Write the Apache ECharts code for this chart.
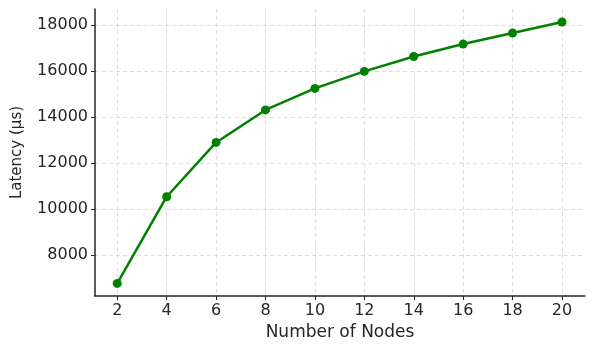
<!DOCTYPE html>
<html>
<head>
<meta charset="utf-8" />
<title>Latency vs Nodes</title>
<script src="https://cdn.jsdelivr.net/npm/echarts@6/dist/echarts.min.js"></script>
<style>
  * { margin: 0; padding: 0; }
  #chart-container { width: 595px; height: 347px; background: #fff; }
</style>
</head>
<body>
<div id="chart-container"></div>
<script>
var nodes = [2, 4, 6, 8, 10, 12, 14, 16, 18, 20];
var latency = [6765, 10535, 12896, 14310, 15245, 15985, 16635, 17175, 17655, 18135];
var xTicks = [2, 4, 6, 8, 10, 12, 14, 16, 18, 20];
var yTicks = [8000, 10000, 12000, 14000, 16000, 18000];

var dom = document.getElementById("chart-container");
var myChart = echarts.init(dom, null, { renderer: "canvas" });

var font = "DejaVu Sans";
var axisColor = "#262626";
var gridLine = { show: true, lineStyle: { color: "#d4d4d4", type: [4, 3], width: 0.8 } };

var option = {
  animation: false,
  grid: { left: 95, right: 10, top: 9, bottom: 51 },
  xAxis: {
    type: "value",
    min: 1.1,
    max: 20.93,
    name: "Number of Nodes",
    nameLocation: "middle",
    nameGap: 24,
    nameTextStyle: { fontFamily: font, fontSize: 17, color: axisColor },
    axisLine: { lineStyle: { color: axisColor, width: 1.5 } },
    axisTick: { show: true, length: 4, customValues: xTicks, lineStyle: { color: axisColor } },
    axisLabel: { customValues: xTicks, margin: 7, fontFamily: font, fontSize: 16, color: axisColor },
    splitLine: gridLine
  },
  yAxis: {
    type: "value",
    min: 6217,
    max: 18700,
    name: "Latency (µs)",
    nameLocation: "middle",
    nameGap: 70,
    nameRotate: 90,
    nameTextStyle: { fontFamily: font, fontSize: 15, color: axisColor },
    axisLine: { show: true, lineStyle: { color: axisColor, width: 1.5 } },
    axisTick: { show: true, length: 4, customValues: yTicks, lineStyle: { color: axisColor } },
    axisLabel: {
      customValues: yTicks, margin: 7, fontFamily: font, fontSize: 16, color: axisColor,
      formatter: function (v) { return String(v); }
    },
    splitLine: gridLine
  },
  series: [{
    type: "line",
    data: nodes.map(function (n, i) { return [n, latency[i]]; }),
    symbol: "circle",
    symbolSize: 9,
    itemStyle: { color: "#008000" },
    lineStyle: { color: "#008000", width: 2.5 }
  }]
};

myChart.setOption(option);
</script>
</body>
</html>
